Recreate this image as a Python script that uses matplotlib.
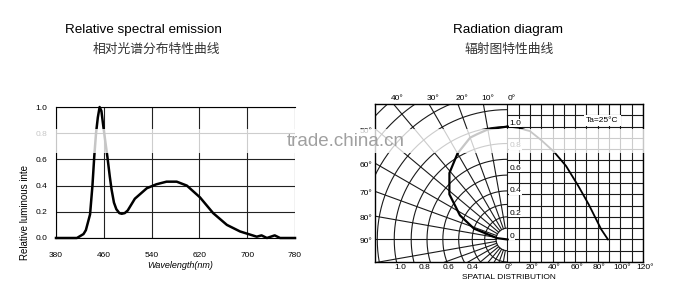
import numpy as np
import matplotlib
matplotlib.use("Agg")
import matplotlib.pyplot as plt
from matplotlib.patches import Rectangle

plt.rcParams['font.family'] = ['Liberation Sans', 'DejaVu Sans']

# relative spectral emission (left chart)
wavelength = [380, 400, 415, 426, 430, 437, 441, 444, 447, 450, 453, 456, 459, 463, 466, 470,
              473, 477, 481, 486, 490, 495, 500, 512, 532, 548, 565, 582, 599, 621, 643,
              666, 688, 702, 716, 724, 733, 746, 755, 780]
intensity = [0.0, 0.0, 0.0, 0.03, 0.06, 0.18, 0.40, 0.62, 0.80, 0.92, 1.0, 0.97, 0.86, 0.72,
             0.62, 0.47, 0.37, 0.27, 0.22, 0.19, 0.185, 0.19, 0.21, 0.30, 0.38, 0.41, 0.43,
             0.43, 0.40, 0.31, 0.19, 0.10, 0.05, 0.03, 0.01, 0.02, 0.0, 0.02, 0.0, 0.0]
wl_ticks = [380, 460, 540, 620, 700, 780]
int_ticks = [0.0, 0.2, 0.4, 0.6, 0.8, 1.0]

# radiation diagram (right chart)
angle_deg = [0, 10, 16, 20, 30, 41, 52, 63, 72, 83, 89]
rel_int = [1.0, 0.99, 0.97, 0.96, 0.88, 0.78, 0.65, 0.47, 0.31, 0.09, 0.0]
top_angles = [40, 30, 20, 10, 0]
side_angles = [50, 60, 70, 80, 90]
radius_labels = [1.0, 0.8, 0.6, 0.4]
spatial_ticks = [0, 20, 40, 60, 80, 100, 120]
inner_labels = [1.0, 0.8, 0.6, 0.4, 0.2, 0.0]
arc_r = [0.1, 0.2, 0.31, 0.43, 0.57, 0.71, 0.85, 1.0, 1.15, 1.3, 1.45, 1.6, 1.75]

W, H = 693, 298
fig = plt.figure(figsize=(W / 100, H / 100), dpi=100)


def fx(px):
    return px / W


def fy(py):
    return 1 - py / H


# titles
fig.text(fx(222), fy(30), "Relative spectral emission", ha='right', va='center', fontsize=9.7)
fig.text(fx(220), fy(49), "相对光谱分布特性曲线", ha='right', va='center', fontsize=9.2,
         family=['Noto Sans CJK SC'], color='#333333')
fig.text(fx(508), fy(30), "Radiation diagram", ha='center', va='center', fontsize=9.7)
fig.text(fx(509), fy(49), "辐射图特性曲线", ha='center', va='center', fontsize=9.2,
         family=['Noto Sans CJK SC'], color='#333333')

# ---- left: spectrum
ax = fig.add_axes([fx(56), fy(238), fx(295) - fx(56), fy(107) - fy(238)])
ax.plot(wavelength, intensity, color='black', lw=1.8, clip_on=False, zorder=3)
ax.set_xlim(380, 780)
ax.set_ylim(0, 1.0)
ax.set_xticks(wl_ticks)
ax.set_yticks(int_ticks)
ax.set_yticklabels([f"{v:.1f}" for v in int_ticks])
ax.tick_params(length=0, labelsize=6)
ax.tick_params(axis='x', pad=10)
ax.tick_params(axis='y', pad=6)
ax.grid(True, color='#222222', lw=0.8)
for s in ['left', 'top', 'bottom']:
    ax.spines[s].set_linewidth(0.8)
ax.spines['right'].set_visible(False)
fig.text(fx(180), fy(266), "Wavelength(nm)", ha='center', va='center', fontsize=6.5, style='italic')
fig.text(fx(25), fy(260), "Relative luminous inte", rotation=90, ha='center', va='bottom', fontsize=7)

# ---- right: radiation diagram
rx = fig.add_axes([fx(375), fy(262), fx(643) - fx(375), fy(104) - fy(262)])
rx.set_xlim(-1.17, 1.2)
rx.set_ylim(-0.2, 1.2)
rx.set_xticks([])
rx.set_yticks([])
for s in rx.spines.values():
    s.set_linewidth(1.0)
gkw = dict(color='#1a1a1a', lw=0.8)

# rectangular grid
for g in np.arange(0, 1.21, 0.1):
    rx.plot([g, g], [-0.2, 1.2], **gkw)
for g in np.arange(-0.2, 1.21, 0.1):
    rx.plot([0, 1.2], [g, g], **gkw)

# polar grid
t = np.radians(np.linspace(0, 180, 200))
for r in arc_r:
    rx.plot(-r * np.sin(t), r * np.cos(t), **gkw)
for a in range(10, 180, 10):
    ar = np.radians(a)
    rx.plot([-0.1 * np.sin(ar), -2.5 * np.sin(ar)], [0.1 * np.cos(ar), 2.5 * np.cos(ar)], **gkw)

# curves
th = np.radians(angle_deg)
ri = np.array(rel_int)
rx.plot(-ri * np.sin(th), ri * np.cos(th), color='black', lw=1.6, zorder=3)
rx.plot(np.array(angle_deg) / 100, rel_int, color='black', lw=1.3, zorder=3)

lkw = dict(fontsize=6, clip_on=False)
for a in top_angles:
    rx.text(-1.2035 * np.tan(np.radians(a)) + 0.04, 1.25, f"{a}°", ha='center', va='center', **lkw)
for a in side_angles:
    rx.text(-1.19, 1.168 / np.tan(np.radians(a)) - 0.02, f"{a}°", ha='right', va='center', **lkw)
for v in radius_labels:
    rx.text(-(1.06 * v - 0.115), -0.25, f"{v:.1f}", ha='center', va='center', **lkw)
for a in spatial_ticks:
    rx.text(a / 100 + 0.015, -0.25, f"{a}°", ha='center', va='center', **lkw)
for v in inner_labels:
    lab = "0" if v == 0 else f"{v:.1f}"
    rx.text(0.02, v + 0.03, lab, ha='left', va='center', zorder=4,
            bbox=dict(facecolor='white', edgecolor='none', pad=0.3), **lkw)
rx.text(0.84, 1.053, "Ta=25°C", ha='center', va='center', zorder=4,
        bbox=dict(facecolor='white', edgecolor='none', pad=1.5), **lkw)
rx.text(0.01, -0.34, "SPATIAL DISTRIBUTION", ha='center', va='center', **lkw)

# washed-out watermark band
fig.add_artist(Rectangle((0, fy(153)), 1, fy(129) - fy(153), transform=fig.transFigure,
                         facecolor='white', edgecolor='none', alpha=0.78, zorder=5))
fig.text(fx(346), fy(142), "trade.china.cn", ha='center', va='center', fontsize=13.5,
         color='#a0a0a0', zorder=6)

fig.savefig("out.png", dpi=100)
